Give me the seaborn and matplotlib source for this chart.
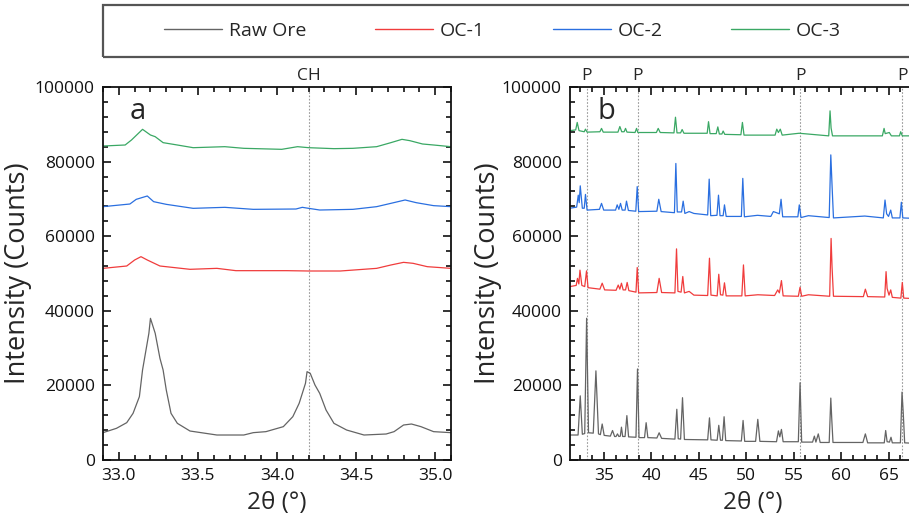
import matplotlib
matplotlib.use("Agg")
import matplotlib.pyplot as plt
import pandas as pd
import seaborn as sns
from matplotlib.ticker import MultipleLocator
from matplotlib.patches import Rectangle
from matplotlib.lines import Line2D

# ---------------- data ----------------
series_names = ["Raw Ore", "OC-1", "OC-2", "OC-3"]
series_colors = ["#646464", "#f03c3c", "#2a6fe0", "#3aa864"]

# panel a (zoomed region)
a_raw_theta = [32.90, 32.985, 33.05, 33.09, 33.13, 33.15, 33.19, 33.20, 33.23, 33.26, 33.28, 33.30,
               33.33, 33.37, 33.45, 33.62, 33.79, 33.85, 33.93, 34.04, 34.10, 34.14, 34.18, 34.19,
               34.21, 34.24, 34.27, 34.31, 34.36, 34.44, 34.55, 34.69, 34.74, 34.80, 34.85, 34.91,
               34.99, 35.10]
a_raw_int = [7330, 8490, 10010, 12510, 16980, 24130, 33960, 37980, 33960, 27260, 24130, 18770,
             12510, 9830, 7770, 6700, 6700, 7330, 7600, 8940, 11620, 15190, 20550, 23680,
             23240, 20110, 17870, 13400, 9830, 8040, 6700, 6970, 7600, 9380, 9650, 8940,
             7600, 7330]

a_oc1_theta = [32.90, 33.05, 33.10, 33.14, 33.18, 33.26, 33.45, 33.62, 33.74, 34.06, 34.20, 34.40,
               34.63, 34.72, 34.80, 34.86, 34.95, 35.10]
a_oc1_int = [51380, 52010, 53620, 54510, 53620, 52010, 51120, 51380, 50760, 50760, 50670, 50670,
             51380, 52280, 52990, 52730, 51830, 51380]

a_oc2_theta = [32.90, 33.07, 33.11, 33.18, 33.22, 33.30, 33.47, 33.67, 33.85, 34.12, 34.16, 34.20,
               34.27, 34.48, 34.63, 34.72, 34.81, 34.88, 34.99, 35.10]
a_oc2_int = [67920, 68630, 69880, 70780, 69260, 68540, 67470, 67740, 67200, 67290, 67740, 67470,
             67020, 67200, 67920, 68810, 69710, 68990, 68190, 67920]

a_oc3_theta = [32.90, 33.04, 33.08, 33.15, 33.20, 33.23, 33.28, 33.37, 33.47, 33.67, 33.79, 34.03,
               34.13, 34.20, 34.36, 34.48, 34.63, 34.72, 34.79, 34.84, 34.92, 34.99, 35.10]
a_oc3_int = [84180, 84450, 85790, 88650, 87130, 86680, 85080, 84450, 83730, 84000, 83560, 83290,
             84000, 83730, 83470, 83560, 84000, 85080, 85970, 85610, 84720, 84450, 84000]

# panel b (full pattern)
b_raw_theta = [31.45, 32.30, 32.53, 32.75, 33.00, 33.20, 33.40, 33.90, 34.18, 34.45, 34.65, 34.84,
               35.05, 35.70, 35.93, 36.15, 36.30, 36.45, 36.60, 36.75, 36.87, 37.00, 37.25, 37.44,
               37.62, 38.40, 38.56, 38.72, 39.30, 39.47, 39.65, 40.60, 40.84, 41.10, 42.50, 42.70,
               42.85, 43.10, 43.30, 43.50, 45.95, 46.14, 46.30, 46.95, 47.12, 47.30, 47.50, 47.68,
               47.85, 49.50, 49.68, 49.85, 51.00, 51.23, 51.45, 53.20, 53.40, 53.55, 53.72, 53.90,
               55.50, 55.68, 55.85, 57.00, 57.19, 57.35, 57.60, 57.80, 58.75, 58.92, 59.02, 59.15,
               62.30, 62.56, 62.80, 64.55, 64.70, 64.85, 65.10, 65.26, 65.40, 66.25, 66.42, 66.55,
               66.70, 67.50]
b_raw_int = [6700, 6700, 17200, 6900, 7100, 38000, 7300, 7200, 23900, 7000, 6800, 9650,
             6600, 6400, 7900, 6300, 6300, 7000, 6300, 6400, 8800, 6300, 6300, 11900,
             6200, 6100, 24400, 6000, 6000, 10000, 6000, 5900, 7300, 5800, 5600, 13600,
             5700, 5600, 16700, 5500, 5400, 11300, 5400, 5300, 9300, 5300, 5300, 11600,
             5200, 5100, 10600, 5000, 5000, 10900, 5000, 4900, 7800, 6200, 8200, 4900,
             4900, 20700, 4800, 4800, 6400, 4800, 7000, 4700, 4700, 16600, 11000, 4700,
             4700, 7000, 4600, 4600, 7900, 4900, 4800, 6100, 4600, 4600, 18200, 12600,
             4600, 4500]

b_oc1_theta = [31.45, 32.10, 32.24, 32.38, 32.50, 32.70, 33.00, 33.19, 33.35, 34.60, 34.84, 35.10,
               36.30, 36.53, 36.70, 36.87, 37.05, 37.30, 37.47, 37.65, 38.40, 38.53, 38.68, 40.60,
               40.84, 41.10, 42.50, 42.67, 42.82, 43.15, 43.33, 43.50, 44.00, 44.50, 45.95, 46.14,
               46.30, 46.95, 47.12, 47.30, 47.55, 47.72, 47.90, 49.55, 49.72, 49.90, 51.23, 53.00,
               53.33, 53.50, 53.72, 53.90, 55.50, 55.68, 55.85, 56.56, 58.80, 58.95, 59.05, 59.20,
               62.35, 62.56, 62.80, 64.60, 64.74, 64.85, 65.05, 65.23, 65.40, 66.30, 66.45, 66.60,
               67.50]
b_oc1_int = [46500, 46800, 48700, 47200, 50900, 46800, 46500, 50700, 46200, 45800, 47400, 45600,
             45500, 46900, 45800, 47400, 45600, 45600, 47600, 45400, 45000, 51600, 44800, 44900,
             48700, 44900, 44800, 56600, 45200, 45000, 49200, 44800, 45200, 44200, 44100, 54100,
             44200, 44000, 49800, 44300, 44200, 47500, 44000, 44000, 52300, 44000, 44300, 44100,
             45600, 44800, 48100, 44000, 43900, 46300, 43900, 44300, 43900, 59400, 51800, 43900,
             43800, 45800, 43800, 43700, 50500, 46000, 44200, 45600, 43600, 43400, 47600, 43400,
             43300]

b_oc2_theta = [31.45, 32.15, 32.32, 32.42, 32.53, 32.75, 32.95, 33.08, 33.25, 34.55, 34.77, 35.00,
               36.25, 36.42, 36.60, 36.77, 36.95, 37.25, 37.40, 37.60, 38.38, 38.53, 38.68, 40.60,
               40.80, 41.05, 42.45, 42.60, 42.75, 43.20, 43.37, 43.55, 44.00, 44.50, 45.95, 46.11,
               46.27, 46.93, 47.09, 47.25, 47.58, 47.72, 47.90, 49.50, 49.65, 49.82, 51.20, 52.60,
               52.87, 53.20, 53.50, 53.68, 53.85, 55.45, 55.60, 55.78, 56.56, 58.75, 58.92, 59.05,
               59.20, 62.50, 64.45, 64.63, 64.80, 65.00, 65.23, 65.40, 66.20, 66.35, 66.50, 67.50]
b_oc2_int = [67500, 67800, 71000, 69000, 73500, 67500, 67500, 71200, 67000, 67200, 68800, 67000,
             67000, 68400, 67200, 68800, 67000, 67000, 69400, 66900, 66700, 73300, 66600, 66700,
             69900, 66600, 66300, 79500, 66500, 66500, 69400, 66100, 66600, 66100, 65700, 75300,
             65500, 65600, 71000, 65500, 65500, 68400, 65300, 65300, 75500, 65200, 65600, 65300,
             66600, 66300, 66000, 69900, 65200, 65200, 68400, 65000, 65500, 65000, 81800, 73700,
             64900, 65400, 64900, 69700, 66000, 65300, 67000, 64900, 64900, 69100, 64900, 64800]

b_oc3_theta = [31.45, 32.05, 32.21, 32.40, 32.95, 33.08, 33.25, 34.60, 34.77, 34.95, 36.50, 36.70,
               36.90, 37.15, 37.30, 37.45, 38.30, 38.46, 38.60, 40.55, 40.74, 40.95, 42.40, 42.56,
               42.72, 43.10, 43.26, 43.45, 45.90, 46.04, 46.20, 46.85, 47.02, 47.18, 47.45, 47.58,
               47.75, 49.45, 49.61, 49.78, 53.05, 53.23, 53.40, 53.60, 53.80, 55.58, 58.70, 58.84,
               58.95, 59.10, 64.35, 64.53, 64.65, 65.08, 65.30, 66.15, 66.28, 66.45, 67.50]
b_oc3_int = [88300, 88500, 90500, 88300, 88000, 88700, 87900, 88000, 88900, 87900, 87900, 89400,
             88000, 88000, 88900, 87900, 87800, 88900, 87800, 87800, 88900, 87800, 87700, 91900,
             87700, 87700, 88600, 87600, 87600, 90700, 87500, 87500, 89300, 87400, 87400, 88200,
             87300, 87200, 90500, 87100, 87100, 88700, 87800, 88700, 87100, 87600, 86900, 93600,
             89000, 86900, 86900, 88900, 87500, 87800, 86900, 86900, 88000, 86900, 86900]

ch_line = [34.2]
ch_labels = ["CH"]
p_lines = [33.19, 38.56, 55.68, 66.42]
p_labels = ["P", "P", "P", "P"]

a_ticks_x = [33.0, 33.5, 34.0, 34.5, 35.0]
b_ticks_x = [35, 40, 45, 50, 55, 60, 65]
y_ticks = [0, 20000, 40000, 60000, 80000, 100000]


def long_df(thetas, ints):
    frames = []
    for name, t, v in zip(series_names, thetas, ints):
        frames.append(pd.DataFrame({"theta": t, "intensity": v, "sample": name}))
    return pd.concat(frames, ignore_index=True)


df_a = long_df([a_raw_theta, a_oc1_theta, a_oc2_theta, a_oc3_theta],
               [a_raw_int, a_oc1_int, a_oc2_int, a_oc3_int])
df_b = long_df([b_raw_theta, b_oc1_theta, b_oc2_theta, b_oc3_theta],
               [b_raw_int, b_oc1_int, b_oc2_int, b_oc3_int])

# ---------------- style ----------------
sns.set_theme(style="ticks")
plt.rcParams["font.family"] = ["Open Sans", "DejaVu Sans"]
plt.rcParams["axes.linewidth"] = 1.3
plt.rcParams["xtick.direction"] = "in"
plt.rcParams["ytick.direction"] = "in"

W, H = 909, 515
fig = plt.figure(figsize=(W / 100, H / 100), dpi=100)
fig.patch.set_facecolor("white")

ax_a = fig.add_axes([103 / W, 1 - 460 / H, 348 / W, 373 / H])
ax_b = fig.add_axes([570 / W, 1 - 460 / H, 366 / W, 373 / H])

palette = dict(zip(series_names, series_colors))

for ax, df in [(ax_a, df_a), (ax_b, df_b)]:
    sns.lineplot(data=df, x="theta", y="intensity", hue="sample", hue_order=series_names,
                 palette=palette, estimator=None, sort=False, linewidth=0.9,
                 legend=False, ax=ax)

ax_a.set_xlim(32.9, 35.1)
ax_b.set_xlim(31.45, 70.0)

for ax in (ax_a, ax_b):
    ax.set_ylim(0, 100000)
    ax.set_yticks(y_ticks)
    ax.yaxis.set_minor_locator(MultipleLocator(4000))
    ax.tick_params(which="both", top=True, right=True, direction="in",
                   labelsize=12.5, colors="#111111", width=1.2)
    ax.tick_params(which="major", length=6, pad=6)
    ax.tick_params(which="minor", length=3.5)
    ax.set_ylabel("Intensity (Counts)", fontsize=19.5)
    ax.set_xlabel("2θ (°)", fontsize=17.5, labelpad=5)
    for sp in ax.spines.values():
        sp.set_color("#111111")
        sp.set_visible(True)

ax_a.yaxis.set_label_coords(-0.203, 0.5)
ax_b.yaxis.set_label_coords(-0.185, 0.5)

ax_a.set_xticks(a_ticks_x)
ax_a.set_xticklabels([f"{v:.1f}" for v in a_ticks_x])
ax_a.xaxis.set_minor_locator(MultipleLocator(0.1))
ax_b.set_xticks(b_ticks_x)
ax_b.xaxis.set_minor_locator(MultipleLocator(1.25))

# reference lines
for x, lab in zip(ch_line, ch_labels):
    ax_a.axvline(x, color="#9a9a9a", lw=0.8, ls=(0, (1.5, 1.5)), zorder=0)
    ax_a.text(x, 1.008, lab, transform=ax_a.get_xaxis_transform(), ha="center",
              va="bottom", fontsize=12.5, clip_on=False)
for x, lab in zip(p_lines, p_labels):
    ax_b.axvline(x, color="#9a9a9a", lw=0.8, ls=(0, (1.5, 1.5)), zorder=0)
    ax_b.text(x, 1.008, lab, transform=ax_b.get_xaxis_transform(), ha="center",
              va="bottom", fontsize=12.5, clip_on=False)

ax_a.text(0.1, 0.935, "a", transform=ax_a.transAxes, ha="center", va="center", fontsize=21)
ax_b.text(0.1, 0.935, "b", transform=ax_b.transAxes, ha="center", va="center", fontsize=21)

# legend box across the top
fig.patches.append(Rectangle((103 / W, 1 - 57 / H), 830 / W, 52 / H, transform=fig.transFigure,
                             fill=False, edgecolor="#555555", lw=1.6, clip_on=False))
handles = [Line2D([], [], color=c, lw=1.0) for c in series_colors]
fig.legend(handles, series_names, loc="center left", bbox_to_anchor=(164 / W, 1 - 31 / H),
           ncol=4, frameon=False, fontsize=14, handlelength=3.0, handletextpad=0.35,
           columnspacing=3.5, borderpad=0, borderaxespad=0)

fig.savefig("out.png", dpi=100, facecolor="white")
